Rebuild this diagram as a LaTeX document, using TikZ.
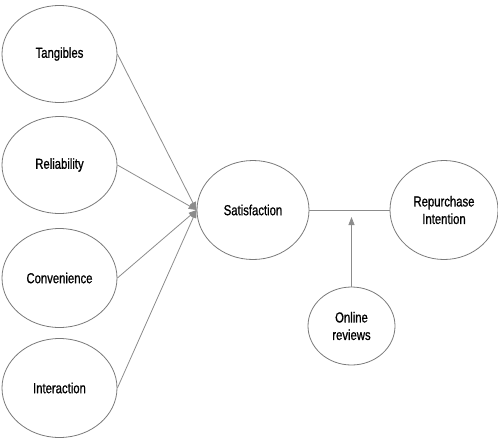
\documentclass[tikz,border=0pt]{standalone}
\usepackage{fontspec}
\setmainfont{Liberation Sans}[FakeStretch=0.78,FakeBold=0.9]
\usetikzlibrary{shapes.geometric,arrows.meta}
\definecolor{lc}{HTML}{8C8C8C}
\definecolor{ec}{HTML}{7A7A7A}
\tikzset{
  oval/.style={ellipse, draw=ec, line width=0.8pt, inner sep=0pt, align=center, font=\fontsize{14.5}{17.5}\selectfont},
  link/.style={draw=lc, line width=0.8pt},
  arr/.style={link, -{Triangle[length=8pt,width=6pt]}}
}
\begin{document}
\begin{tikzpicture}[x=1pt,y=-1pt]
\useasboundingbox (0,0) rectangle (498,440);
\node[oval, minimum width=115pt, minimum height=97pt] (tan) at (59.5,54) {Tangibles};
\node[oval, minimum width=115pt, minimum height=97pt] (rel) at (59.5,165) {Reliability};
\node[oval, minimum width=115pt, minimum height=99pt] (con) at (59.5,278) {Convenience};
\node[oval, minimum width=115pt, minimum height=99pt] (int) at (59.5,388) {Interaction};
\node[oval, minimum width=112pt, minimum height=99pt] (sat) at (253,210) {Satisfaction};
\node[oval, minimum width=108pt, minimum height=99pt] (rep) at (444,210) {Repurchase\\Intention};
\node[oval, minimum width=87pt, minimum height=78pt] (onl) at (351.5,326) {Online\\reviews};
\coordinate (mid) at (351.5,217);
\draw[arr] (tan.east) -- (sat.west);
\draw[arr] (rel.east) -- (sat.west);
\draw[arr] (con.east) -- (sat.west);
\draw[arr] (int.east) -- (sat.west);
\draw[link] (sat.east) -- (rep.west);
\draw[arr] (onl.north) -- (mid);
\end{tikzpicture}
\end{document}
